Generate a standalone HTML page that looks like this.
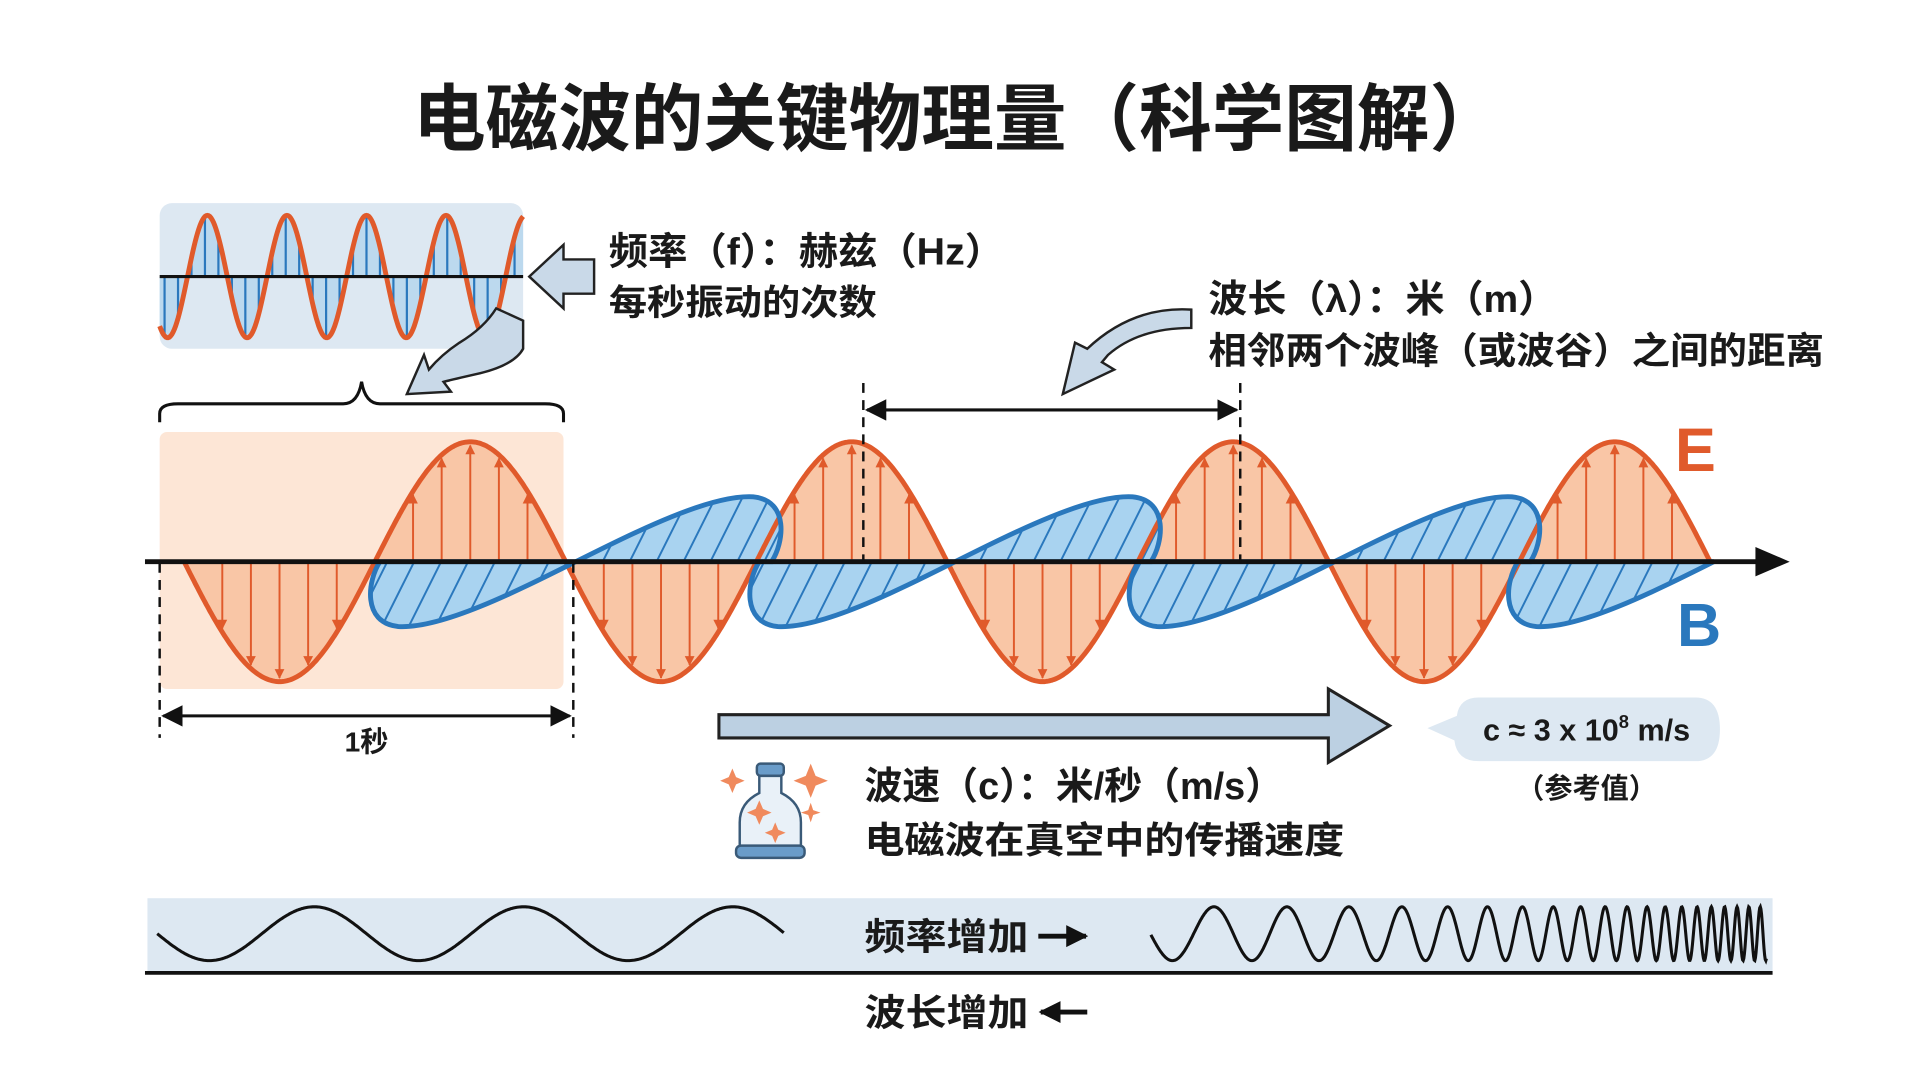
<!DOCTYPE html>
<html><head><meta charset="utf-8"><style>
html,body{margin:0;padding:0;background:#fff;width:1920px;height:1072px;overflow:hidden}
svg{display:block}
text{font-family:"Liberation Sans","Noto Sans CJK SC",sans-serif;font-weight:bold;fill:#1a1a1a}
</style></head><body>
<svg id="s" width="1920" height="1072" viewBox="0 0 1568 876" xmlns="http://www.w3.org/2000/svg">
<defs>
<marker id="ah" viewBox="0 0 10 10" refX="9" refY="5" markerWidth="7" markerHeight="7" orient="auto-start-reverse"><path d="M0,0 L10,5 L0,10 z" fill="#111"/></marker>
<marker id="as" viewBox="0 0 10 10" refX="9" refY="5" markerWidth="4.5" markerHeight="5" orient="auto"><path d="M0,0 L10,5 L0,10 z" fill="#111"/></marker>
<marker id="ao" viewBox="0 0 10 10" refX="9" refY="5" markerWidth="5" markerHeight="6" orient="auto"><path d="M0,0 L10,5 L0,10 z" fill="#e05a2b"/></marker>
</defs>
<rect width="1568" height="876" fill="#fff"/>
<text x="337" y="118" font-size="60" textLength="890" lengthAdjust="spacingAndGlyphs">电磁波的关键物理量（科学图解）</text>

<rect x="130" y="166" width="297" height="119" rx="10" fill="#dde8f2"/>
<g id="inset"></g>
<line x1="130" y1="226" x2="427" y2="226" stroke="#111" stroke-width="2.5"/>
<path d="M485,212 L460,212 L460,200 L432,226 L460,252 L460,240 L485,240 Z" fill="#c9d9e8" stroke="#222" stroke-width="2"/>
<text x="497" y="216" font-size="31" textLength="323" lengthAdjust="spacingAndGlyphs">频率（f）：赫兹（Hz）</text>
<text x="497" y="257" font-size="29" textLength="219" lengthAdjust="spacingAndGlyphs">每秒振动的次数</text>
<path d="M427,262 L427,285 Q420,298 392,305 Q370,310 362,312 L368,320 L332,322 L346,290 L350,302 Q360,290 375,280 Q395,268 405,252 Z" fill="#c9d9e8" stroke="#222" stroke-width="2"/>
<path d="M130,345 L130,338 Q130,330 145,330 L280,330 Q292,330 295,312 Q298,330 310,330 L445,330 Q460,330 460,338 L460,345" fill="none" stroke="#111" stroke-width="2.5"/>
<rect x="130" y="353" width="330" height="210" rx="6" fill="#fde6d6"/>

<g id="main"></g>
<line x1="118" y1="459" x2="1440" y2="459" stroke="#111" stroke-width="4"/>
<path d="M1434,447 L1462,459 L1434,471 Z" fill="#111"/>
<text x="1385" y="385" font-size="50" text-anchor="middle" style="fill:#e05a2b">E</text>
<text x="1388" y="528" font-size="50" text-anchor="middle" style="fill:#2a78bd">B</text>

<line x1="705" y1="313" x2="705" y2="460" stroke="#111" stroke-width="2" stroke-dasharray="8,6"/>
<line x1="1013" y1="313" x2="1013" y2="460" stroke="#111" stroke-width="2" stroke-dasharray="8,6"/>
<line x1="708" y1="335" x2="1010" y2="335" stroke="#111" stroke-width="2.5" marker-start="url(#ah)" marker-end="url(#ah)"/>
<text x="987" y="255" font-size="31" textLength="285" lengthAdjust="spacingAndGlyphs">波长（λ）：米（m）</text>
<text x="987" y="297" font-size="30" textLength="503" lengthAdjust="spacingAndGlyphs">相邻两个波峰（或波谷）之间的距离</text>
<path d="M973,253 L973,268 Q930,268 905,290 L900,296 L910,302 L868,322 L878,280 L888,285 Q925,250 973,253 Z" fill="#c9d9e8" stroke="#222" stroke-width="2"/>

<line x1="130" y1="460" x2="130" y2="603" stroke="#111" stroke-width="2" stroke-dasharray="8,6"/>
<line x1="468" y1="460" x2="468" y2="603" stroke="#111" stroke-width="2" stroke-dasharray="8,6"/>
<line x1="133" y1="585" x2="465" y2="585" stroke="#111" stroke-width="2.5" marker-start="url(#ah)" marker-end="url(#ah)"/>
<text x="299" y="614" font-size="23" text-anchor="middle">1秒</text>

<path d="M587,584 L1085,584 L1085,563 L1135,593 L1085,623 L1085,603 L587,603 Z" fill="#bcd0e2" stroke="#222" stroke-width="2.5"/>
<path d="M1208,570 L1385,570 Q1405,570 1405,596 Q1405,622 1385,622 L1208,622 Q1190,622 1188,605 L1166,595 L1190,585 Q1192,570 1208,570 Z" fill="#dde8f2"/>
<text x="1296" y="605" font-size="25" text-anchor="middle">c ≈ 3 x 10<tspan font-size="15" dy="-10">8</tspan><tspan dy="10"> m/s</tspan></text>
<text x="1296" y="652" font-size="23" text-anchor="middle">（参考值）</text>

<g stroke="#3a5a78" stroke-width="2">
<rect x="618" y="624" width="22" height="10" rx="3" fill="#6a9cc9"/>
<path d="M620,634 L620,648 Q604,656 604,672 L604,692 L654,692 L654,672 Q654,656 638,648 L638,634 Z" fill="#e9f1f8"/>
<rect x="601" y="691" width="56" height="10" rx="4" fill="#6a9cc9"/>
</g>
<g fill="#f08a5d">
<path d="M598,628 l3,7 l7,3 l-7,3 l-3,7 l-3,-7 l-7,-3 l7,-3z"/>
<path d="M662,624 l4,10 l10,4 l-10,4 l-4,10 l-4,-10 l-10,-4 l10,-4z"/>
<path d="M620,654 l3,7 l7,3 l-7,3 l-3,7 l-3,-7 l-7,-3 l7,-3z"/>
<path d="M662,656 l2,6 l6,2 l-6,2 l-2,6 l-2,-6 l-6,-2 l6,-2z"/>
<path d="M633,672 l2.5,6 l6,2.5 l-6,2.5 l-2.5,6 l-2.5,-6 l-6,-2.5 l6,-2.5z"/>
</g>
<text x="706" y="653" font-size="31" textLength="342" lengthAdjust="spacingAndGlyphs">波速（c）：米/秒（m/s）</text>
<text x="706" y="697" font-size="30" textLength="392" lengthAdjust="spacingAndGlyphs">电磁波在真空中的传播速度</text>

<rect x="120" y="734" width="1328" height="61" fill="#dde8f2"/>
<g id="bot"></g>
<line x1="118" y1="795" x2="1448" y2="795" stroke="#111" stroke-width="3"/>
<text x="706" y="776" font-size="30" textLength="134" lengthAdjust="spacingAndGlyphs">频率增加</text>
<line x1="848" y1="765" x2="887" y2="765" stroke="#111" stroke-width="4" marker-end="url(#as)"/>
<text x="706" y="838" font-size="30" textLength="134" lengthAdjust="spacingAndGlyphs">波长增加</text>
<line x1="888" y1="827" x2="850" y2="827" stroke="#111" stroke-width="4" marker-end="url(#as)"/>
</svg>
<script>
var NS="http://www.w3.org/2000/svg";
function el(p,t,a){var e=document.createElementNS(NS,t);for(var k in a)e.setAttribute(k,a[k]);document.getElementById(p).appendChild(e);return e;}
(function(){
 var P=65,A=50,c=226,x0=130,x1=427,ph=169;
 function f(x){return c-A*Math.sin(2*Math.PI*(x-ph+P/4)/P);}
 var d="M"+x0+","+c;for(var x=x0;x<=x1;x+=1)d+=" L"+x+","+f(x).toFixed(1);d+=" L"+x1+","+c+"Z";
 el("inset","path",{d:d,fill:"#bcd9ee"});
 for(var x=x0+4;x<x1;x+=11){el("inset","line",{x1:x,y1:c,x2:x,y2:f(x),stroke:"#2a78bd","stroke-width":1.8});}
 var s="";for(var x=x0;x<=x1;x+=1)s+=(x==x0?"M":" L")+x+","+f(x).toFixed(1);
 el("inset","path",{d:s,fill:"none",stroke:"#e05a2b","stroke-width":4});
})();
(function(){
 var c=459,A=98,x0=150,x1=1397,P=(x1-x0)/4;
 function f(x){return c+A*Math.sin(2*Math.PI*(x-x0)/P);}
 var d="M"+x0+","+c;for(var x=x0;x<=x1;x+=1)d+=" L"+x+","+f(x).toFixed(1);d+=" L"+x1+","+c+"Z";
 el("main","path",{d:d,fill:"#f9c6a6"});
 var lobes=[];
 for(var k=0;k<4;k++){
  var m=470+310*k;
  lobes.push("M"+m+","+c+" C"+(m-50)+","+(c+25)+" "+(m-110)+","+(c+55)+" "+(m-145)+","+(c+53)+" C"+(m-175)+","+(c+50)+" "+(m-170)+","+(c+15)+" "+(m-160)+","+c+" Z");
  if(k<3) lobes.push("M"+m+","+c+" C"+(m+50)+","+(c-25)+" "+(m+110)+","+(c-55)+" "+(m+145)+","+(c-53)+" C"+(m+175)+","+(c-50)+" "+(m+170)+","+(c-15)+" "+(m+160)+","+c+" Z");
 }
 var defs=document.querySelector("defs");
 lobes.forEach(function(L,i){
  var cp=document.createElementNS(NS,"clipPath");cp.setAttribute("id","cl"+i);
  var pp=document.createElementNS(NS,"path");pp.setAttribute("d",L);cp.appendChild(pp);defs.appendChild(cp);
  el("main","path",{d:L,fill:"#a9d3f0"});
  var g=el("main","g",{"clip-path":"url(#cl"+i+")"});
  for(var x=100;x<1500;x+=22){var l=document.createElementNS(NS,"line");
   l.setAttribute("x1",x);l.setAttribute("y1",c+80);l.setAttribute("x2",x+80);l.setAttribute("y2",c-80);
   l.setAttribute("stroke","#2a78bd");l.setAttribute("stroke-width","1.6");g.appendChild(l);}
 });
 for(var h=0;h<8;h++){
  var a=x0+h*P/2;
  [0.2,0.35,0.5,0.65,0.8].forEach(function(t){var x=a+t*P/2,y=f(x);
   el("main","line",{x1:x,y1:c,x2:x,y2:y+(y>c?-3:3),stroke:"#e05a2b","stroke-width":1.6,"marker-end":"url(#ao)"});});
 }
 var s="";for(var x=x0;x<=x1;x+=1)s+=(x==x0?"M":" L")+x+","+f(x).toFixed(1);
 el("main","path",{d:s,fill:"none",stroke:"#e05a2b","stroke-width":4});
 lobes.forEach(function(L){el("main","path",{d:L,fill:"none",stroke:"#2a78bd","stroke-width":4});});
})();
(function(){
 var c=763,s="";
 for(var x=128;x<=640;x++){s+=(x==128?"M":" L")+x+","+(c-22*Math.sin(2*Math.PI*(x-128)/171+Math.PI)).toFixed(1);}
 el("bot","path",{d:s,fill:"none",stroke:"#111","stroke-width":2.5});
 var ph=Math.PI,t="";
 for(var x=940;x<=1443;x+=0.5){var u=(x-940)/503,p=65*Math.pow(1-u,1.4)+9;ph+=2*Math.PI*0.5/p;
  t+=(x==940?"M":" L")+x+","+(c-22*Math.sin(ph)).toFixed(1);}
 el("bot","path",{d:t,fill:"none",stroke:"#111","stroke-width":2.5});
})();
</script>
</body></html>
